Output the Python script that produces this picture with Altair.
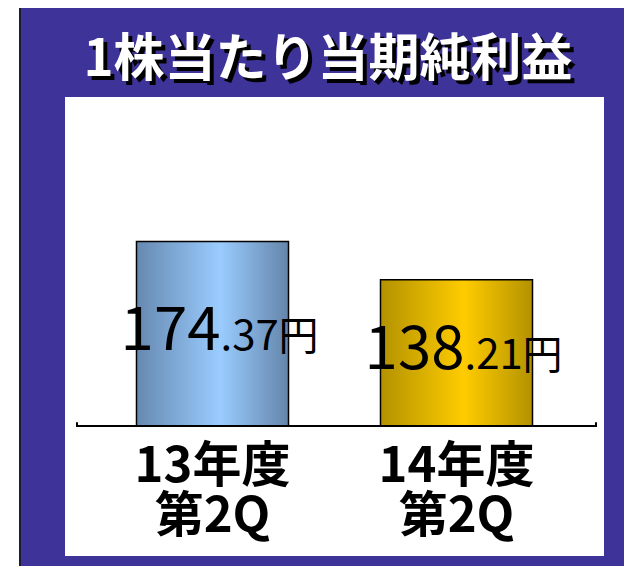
import altair as alt
import pandas as pd

# ---- data ----
categories = ["13年度|第2Q", "14年度|第2Q"]
values = [174.37, 138.21]
int_labels = ["174", "138"]
dec_labels = [".37", ".21"]
unit_labels = ["円", "円"]
title_text = "1株当たり当期純利益"

df = pd.DataFrame({
    "cat": categories,
    "value": values,
    "ilab": int_labels,
    "dlab": dec_labels,
    "ulab": unit_labels,
})
one = pd.DataFrame({"t": [title_text]})

W, H = 539, 459
PURPLE = "#3D3399"
FONT = "Noto Sans CJK JP"

xscale = alt.Scale(domain=categories, paddingInner=0.377, paddingOuter=0.293)
xenc = alt.X("cat:N", scale=xscale, axis=None)
yscale = alt.Scale(domain=[-123, 311], nice=False)
yenc = alt.Y("value:Q", scale=yscale, axis=None)


def grad(dark, light, dark2):
    return alt.Gradient(gradient="linear",
                        stops=[alt.GradientStop(color=dark, offset=0),
                               alt.GradientStop(color=light, offset=0.55),
                               alt.GradientStop(color=dark2, offset=1)],
                        x1=0, x2=1, y1=0, y2=0)


base = alt.Chart(df)

bar1 = base.transform_filter(alt.datum.cat == categories[0]).mark_bar(
    fill=grad("#6689B0", "#9ACCFF", "#6485AA"), stroke="black", strokeWidth=1.5
).encode(x=xenc, y=yenc)
bar2 = base.transform_filter(alt.datum.cat == categories[1]).mark_bar(
    fill=grad("#B39200", "#FFCC00", "#B39200"), stroke="black", strokeWidth=1.5
).encode(x=xenc, y=yenc)

rule_base = alt.Chart(one).transform_calculate(zero="0", tk="3.5")
baseline = rule_base.mark_rule(color="black", strokeWidth=2).encode(
    y=alt.Y("zero:Q", scale=yscale, axis=None), x=alt.value(11), x2=alt.value(532))
tick_l = rule_base.mark_rule(color="black", strokeWidth=2).encode(
    y=alt.Y("zero:Q", scale=yscale, axis=None), y2="tk:Q", x=alt.value(12))
tick_r = rule_base.mark_rule(color="black", strokeWidth=2).encode(
    y=alt.Y("zero:Q", scale=yscale, axis=None), y2="tk:Q", x=alt.value(531))

lab_base = base.transform_calculate(mid="datum.value / 2", ly="-16")
ymid = alt.Y("mid:Q", scale=yscale, axis=None)
lab_int = lab_base.mark_text(align="right", baseline="alphabetic", dx=8, dy=16,
                             font=FONT, fontSize=60, color="black").encode(
    x=xenc, y=ymid, text="ilab:N")
lab_dec = lab_base.mark_text(align="left", baseline="alphabetic", dx=8, dy=16,
                             font=FONT, fontSize=42, color="black").encode(
    x=xenc, y=ymid, text="dlab:N")
lab_unit = lab_base.mark_text(align="left", baseline="alphabetic", dx=66, dy=16,
                              font=FONT, fontSize=40, color="black").encode(
    x=xenc, y=ymid, text="ulab:N")
cat_lab = lab_base.mark_text(align="center", baseline="top", lineBreak="|",
                             lineHeight=50, font=FONT, fontSize=49, fontWeight="bold",
                             color="black").encode(
    x=xenc, y=alt.Y("ly:Q", scale=yscale, axis=None), text="cat:N")

strip = alt.Chart(one).mark_rect(fill="white").encode(
    x=alt.value(-57), x2=alt.value(-46), y=alt.value(-89), y2=alt.value(H + 10))
strip_line = alt.Chart(one).mark_rect(fill="#1c1c30").encode(
    x=alt.value(-46), x2=alt.value(-44), y=alt.value(-89), y2=alt.value(H + 10))
bg = alt.Chart(one).mark_rect(fill=PURPLE).encode(
    x=alt.value(-44), x2=alt.value(W + 20), y=alt.value(-89), y2=alt.value(H + 10))
panel = alt.Chart(one).mark_rect(fill="white").encode(
    x=alt.value(0), x2=alt.value(W), y=alt.value(0), y2=alt.value(H))

title_shadow = alt.Chart(one).mark_text(
    align="center", baseline="alphabetic", font=FONT, fontSize=51, fontWeight="bold",
    color="black", dx=4, dy=4
).encode(x=alt.value(263), y=alt.value(-21), text="t:N")
title_main = alt.Chart(one).mark_text(
    align="center", baseline="alphabetic", font=FONT, fontSize=51, fontWeight="bold",
    color="white"
).encode(x=alt.value(263), y=alt.value(-21), text="t:N")

chart = alt.layer(
    strip, strip_line, bg, panel, title_shadow, title_main,
    bar1, bar2, baseline, tick_l, tick_r,
    lab_int, lab_dec, lab_unit, cat_lab
).properties(
    width=W, height=H, padding=0, background="white",
).configure_view(strokeWidth=0)

chart.save("out.html", embed_options={"renderer": "svg", "actions": False})
